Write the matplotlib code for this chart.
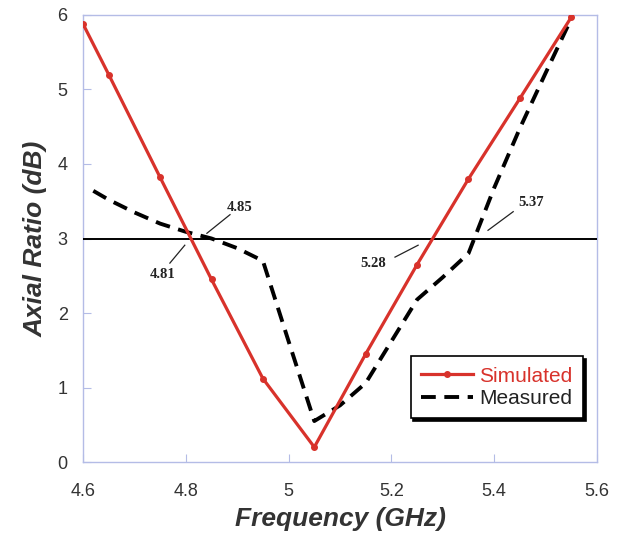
import numpy as np
import matplotlib.pyplot as plt

# --- datos ---
freq_sim = [4.60, 4.65, 4.75, 4.85, 4.95, 5.05, 5.15, 5.25, 5.35, 5.45, 5.55]
ar_sim = [5.88, 5.20, 3.82, 2.45, 1.12, 0.20, 1.45, 2.65, 3.80, 4.88, 5.97]

freq_meas = [4.62, 4.65, 4.70, 4.75, 4.80, 4.85, 4.90, 4.95, 5.00, 5.05,
             5.10, 5.15, 5.20, 5.25, 5.30, 5.35, 5.40, 5.45, 5.50, 5.55]
ar_meas = [3.64, 3.52, 3.35, 3.20, 3.09, 3.00, 2.87, 2.70, 1.62, 0.55,
           0.76, 1.06, 1.62, 2.18, 2.48, 2.80, 3.68, 4.48, 5.22, 5.95]

# etiquetas de los cruces con 3 dB: texto, posicion del texto, linea guia
etiquetas = ["4.85", "4.81", "5.28", "5.37"]
pos_texto = [(4.905, 3.42), (4.754, 2.52), (5.164, 2.67), (5.472, 3.48)]
guias = [((4.841, 3.07), (4.886, 3.32)),
         ((4.798, 2.91), (4.769, 2.67)),
         ((5.207, 2.75), (5.252, 2.91)),
         ((5.388, 3.11), (5.437, 3.36))]

AZUL = "#b4bce6"
ROJO = "#d8322b"
GRIS = "#333333"

plt.rcParams["font.family"] = "Liberation Sans"
fig = plt.figure(figsize=(6.21, 5.35), dpi=100)
ax = fig.add_axes([0.1337, 0.1364, 0.9613 - 0.1337, 0.972 - 0.1364])

# la linea de 3 dB va por encima de las marcas del eje, bajo las curvas
ax.axhline(3, color="black", lw=1.4, zorder=3)
ax.plot(freq_sim, ar_sim, color=ROJO, lw=2.3, marker="o", ms=4,
        label="Simulated", zorder=5)
ax.plot(freq_meas, ar_meas, color="black", lw=2.8, ls=(0, (3.8, 2.2)),
        label="Measured", zorder=4)

for txt, (tx, ty), (p0, p1) in zip(etiquetas, pos_texto, guias):
    ax.text(tx, ty, txt, family="Liberation Serif", weight="bold",
            fontsize=10.5, ha="center", va="center", color="#222222")
    ax.plot([p0[0], p1[0]], [p0[1], p1[1]], color="#222222", lw=0.9)

ax.set_xlim(4.6, 5.6)
ax.set_ylim(0, 6)
ax.set_xticks(np.arange(4.6, 5.61, 0.2))
ax.set_xticklabels(["4.6", "4.8", "5", "5.2", "5.4", "5.6"])
ax.set_yticks(range(7))
for s in ax.spines.values():
    s.set_color(AZUL)
    s.set_linewidth(1.0)
ax.tick_params(direction="in", length=6, color=AZUL, labelsize=13,
               labelcolor=GRIS)
ax.tick_params(axis="x", pad=15)
ax.tick_params(axis="y", pad=11)

ax.set_xlabel("Frequency (GHz)", fontsize=19, weight="bold", style="italic",
              color=GRIS, labelpad=5)
ax.set_ylabel("Axial Ratio (dB)", fontsize=19, weight="bold", style="italic",
              color=GRIS, labelpad=7)

leg = ax.legend(loc="lower right", bbox_to_anchor=(0.973, 0.098), fontsize=15,
                frameon=True, fancybox=False, shadow={"color": "black", "alpha": 1},
                handlelength=2.5, borderpad=0.5, labelspacing=0.15,
                handletextpad=0.3, borderaxespad=0)
leg.set_zorder(6)
leg.get_frame().set_edgecolor("black")
leg.get_frame().set_linewidth(1.2)
leg.get_texts()[0].set_color(ROJO)
leg.get_texts()[1].set_color("#222222")

fig.savefig("out.png", dpi=100)
